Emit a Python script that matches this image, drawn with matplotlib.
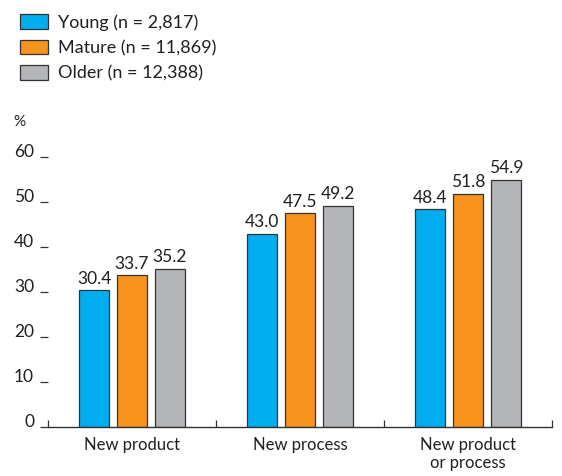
import matplotlib.pyplot as plt
import numpy as np

plt.rcParams['font.family'] = ['Lato', 'DejaVu Sans']

categories = ['New product', 'New process', 'New product\nor process']
series = ['Young (n = 2,817)', 'Mature (n = 11,869)', 'Older (n = 12,388)']
young = [30.4, 43.0, 48.4]
mature = [33.7, 47.5, 51.8]
older = [35.2, 49.2, 54.9]
colors = ['#00AEEF', '#F7941D', '#B3B5B8']
edge = '#333333'

fig = plt.figure(figsize=(5.62, 4.76), dpi=100)
ax = fig.add_axes([48 / 562, 49 / 476, 504 / 562, 270 / 476])

x = np.arange(len(categories))
width = 0.18
step = 0.225
for i, (vals, name, c) in enumerate(zip([young, mature, older], series, colors)):
    pos = x + (i - 1) * step
    bars = ax.bar(pos, vals, width, color=c, edgecolor=edge, linewidth=0.9, label=name)
    for b, v in zip(bars, vals):
        ax.text(b.get_x() + b.get_width() / 2, v + 0.8, f'{v:.1f}',
                ha='center', va='bottom', fontsize=12.5, color='#231f20')

ax.set_xlim(-0.5, 2.5)
ax.set_ylim(0, 60)

for s in ['top', 'right', 'left']:
    ax.spines[s].set_visible(False)
ax.spines['bottom'].set_color(edge)
ax.spines['bottom'].set_linewidth(1.0)

ax.set_yticks([0, 10, 20, 30, 40, 50, 60])
ax.tick_params(axis='y', length=6, width=0.9, color=edge, pad=4, labelsize=12.5,
               labelcolor='#231f20')
for lab in ax.get_yticklabels():
    lab.set_va('baseline')

ax.set_xticks([-0.5, 0.5, 1.5, 2.5])
ax.set_xticklabels([])
ax.tick_params(axis='x', which='major', direction='in', length=5, width=0.9, color=edge)
ax.set_xticks(x, minor=True)
ax.set_xticklabels(categories, minor=True, fontsize=12, color='#231f20', linespacing=1.2)
ax.tick_params(axis='x', which='minor', length=0, pad=7)

fig.text(13 / 562, 1 - 122 / 476, '%', fontsize=11, color='#231f20', va='center')

fig.legend(loc='upper left', bbox_to_anchor=(0.022, 0.985), frameon=False,
           fontsize=13, handlelength=1.6, handleheight=0.85, handletextpad=0.55,
           labelspacing=0.5, borderaxespad=0, labelcolor='#231f20')

fig.savefig('out.png', dpi=100)
